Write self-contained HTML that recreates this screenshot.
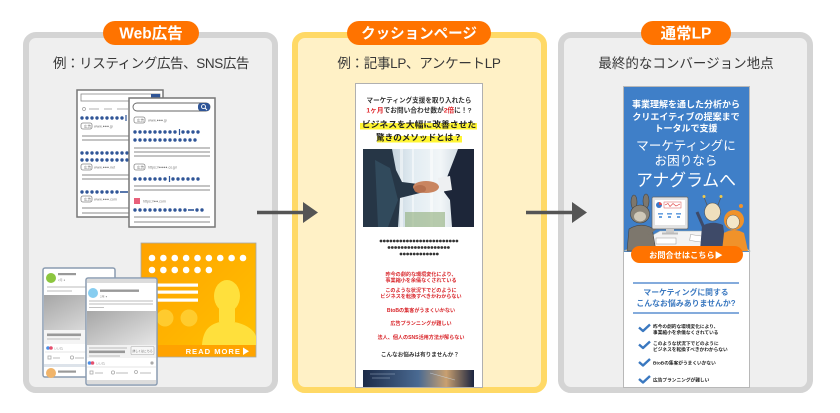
<!DOCTYPE html>
<html><head><meta charset="utf-8"><style>
html,body{margin:0;padding:0;background:#fff;}
svg{display:block;}
text{font-family:"Liberation Sans","Noto Sans CJK JP",sans-serif;}
</style></head><body>
<svg width="840" height="413" viewBox="0 0 840 413" xmlns="http://www.w3.org/2000/svg">
<defs>
<linearGradient id="bn" x1="0" y1="0" x2="1" y2="1"><stop offset="0" stop-color="#ffa200"/><stop offset="1" stop-color="#ffc200"/></linearGradient>
<linearGradient id="fbi" x1="0" y1="0" x2="1" y2="1"><stop offset="0" stop-color="#a6a6a6"/><stop offset="1" stop-color="#e6e6e6"/></linearGradient>
<linearGradient id="ph" x1="0" y1="0" x2="1" y2="0"><stop offset="0" stop-color="#9fb3c2"/><stop offset=".45" stop-color="#e2ecf2"/><stop offset=".7" stop-color="#f2f6f8"/><stop offset="1" stop-color="#b9c8d4"/></linearGradient>
<linearGradient id="ph2" x1="0" y1="0" x2="1" y2="0"><stop offset="0" stop-color="#1c2b48"/><stop offset=".5" stop-color="#4a6a92"/><stop offset=".75" stop-color="#c9a070"/><stop offset="1" stop-color="#1a2440"/></linearGradient>
</defs>

<!-- panels -->
<rect x="26" y="35" width="249" height="355" rx="10" fill="#efefef" stroke="#d4d4d4" stroke-width="6"/>
<rect x="295" y="35" width="249" height="355" rx="10" fill="#fff1c6" stroke="#ffd966" stroke-width="6"/>
<rect x="561" y="35" width="249" height="355" rx="10" fill="#efefef" stroke="#d4d4d4" stroke-width="6"/>

<!-- badges -->
<rect x="103" y="21" width="96" height="24" rx="12" fill="#ff7300"/>
<text x="151" y="38.5" font-size="15.5" font-weight="bold" fill="#fff" text-anchor="middle">Web広告</text>
<rect x="347" y="21" width="144" height="24" rx="12" fill="#ff7300"/>
<text x="419" y="38.5" font-size="14.5" font-weight="bold" fill="#fff" text-anchor="middle">クッションページ</text>
<rect x="641" y="21" width="90" height="24" rx="12" fill="#ff7300"/>
<text x="686" y="38.5" font-size="15.5" font-weight="bold" fill="#fff" text-anchor="middle">通常LP</text>

<!-- subtitles -->
<text x="151" y="68" font-size="13.5" fill="#383838" text-anchor="middle" letter-spacing="-0.4">例：リスティング広告、SNS広告</text>
<text x="419" y="68" font-size="13.5" fill="#383838" text-anchor="middle" letter-spacing="-0.3">例：記事LP、アンケートLP</text>
<text x="686" y="68" font-size="13.5" fill="#383838" text-anchor="middle">最終的なコンバージョン地点</text>

<!-- ===== Left panel: search windows ===== -->
<g>
<rect x="77" y="90" width="86" height="127" fill="#fff" stroke="#777" stroke-width="1.5"/>
<rect x="81" y="94" width="79" height="7" fill="#fff" stroke="#888" stroke-width="0.8"/>
<rect x="151" y="94" width="9" height="7" fill="#2f5597"/>
<circle cx="84" cy="109" r="1.5" fill="none" stroke="#999" stroke-width="0.7"/>
<g stroke="#aaa" stroke-width="0.9"><line x1="89" y1="109" x2="99" y2="109"/><line x1="104" y1="109" x2="112" y2="109"/><line x1="117" y1="109" x2="128" y2="109"/></g>
<g stroke="#2f5597" stroke-width="3.4" stroke-linecap="round" stroke-dasharray="0 5">
<line x1="82" y1="118" x2="123" y2="118"/>
<line x1="82" y1="153" x2="129" y2="153"/>
<line x1="82" y1="160" x2="129" y2="160"/>
<line x1="82" y1="192" x2="118" y2="192"/>
</g>
<line x1="126" y1="115" x2="126" y2="121" stroke="#2f5597" stroke-width="1.2"/>
<line x1="120" y1="192" x2="128" y2="192" stroke="#2f5597" stroke-width="1.6"/>
<g fill="#fff" stroke="#888" stroke-width="0.8">
<rect x="81" y="123" width="11" height="6" rx="2"/>
<rect x="81" y="164" width="11" height="6" rx="2"/>
<rect x="81" y="196" width="11" height="6" rx="2"/>
</g>
<g font-size="3.6" fill="#777">
<text x="84" y="127.5">広告</text><text x="84" y="168.5">広告</text><text x="84" y="200.5">広告</text>
<text x="94" y="127.5">www.●●●.jp</text><text x="94" y="168.5">www.●●●.net</text><text x="94" y="200.5">www.●●●.com</text>
</g>
<g stroke="#8a8a8a" stroke-width="1">
<line x1="82" y1="136" x2="129" y2="136"/><line x1="82" y1="140" x2="129" y2="140"/>
<line x1="82" y1="175" x2="129" y2="175"/><line x1="82" y1="179" x2="129" y2="179"/>
<line x1="82" y1="208" x2="129" y2="208"/><line x1="82" y1="213" x2="129" y2="213"/>
</g>

<rect x="129" y="98" width="86" height="129" fill="#fff" stroke="#777" stroke-width="1.5"/>
<rect x="133" y="103" width="77" height="8" rx="4" fill="#fff" stroke="#666" stroke-width="0.9"/>
<rect x="198" y="103" width="12" height="8" rx="3" fill="#2f5597"/>
<circle cx="203.5" cy="106.6" r="2" fill="none" stroke="#fff" stroke-width="0.9"/>
<line x1="205" y1="108" x2="207" y2="110" stroke="#fff" stroke-width="1"/>
<g fill="#fff" stroke="#888" stroke-width="0.8">
<rect x="134" y="117" width="11" height="6" rx="2"/>
<rect x="134" y="164" width="11" height="6" rx="2"/>
</g>
<rect x="134" y="198" width="6" height="6" fill="#e8607a"/>
<g font-size="3.6" fill="#777">
<text x="137" y="121.5">広告</text><text x="137" y="168.5">広告</text>
<text x="148" y="121.5">www.●●●.jp</text><text x="148" y="168.5">https://●●●●.co.jp/</text>
<text x="143" y="202.5">https://●●.com</text>
</g>
<g stroke="#2f5597" stroke-width="3.4" stroke-linecap="round" stroke-dasharray="0 5">
<line x1="135" y1="132" x2="176" y2="132"/>
<line x1="183" y1="132" x2="199" y2="132"/>
<line x1="135" y1="140" x2="196" y2="140"/>
<line x1="135" y1="179" x2="166" y2="179"/>
<line x1="173" y1="179" x2="199" y2="179"/>
<line x1="135" y1="210" x2="186" y2="210"/>
<line x1="197" y1="210" x2="203" y2="210"/>
</g>
<g stroke="#2f5597" stroke-width="1.2">
<line x1="179.5" y1="129" x2="179.5" y2="135"/><line x1="169.5" y1="176" x2="169.5" y2="182"/>
</g>
<line x1="188" y1="210" x2="194" y2="210" stroke="#2f5597" stroke-width="1.6"/>
<g stroke="#8a8a8a" stroke-width="1">
<line x1="134" y1="148" x2="210" y2="148"/><line x1="134" y1="152" x2="210" y2="152"/><line x1="134" y1="156" x2="210" y2="156"/>
<line x1="134" y1="186" x2="210" y2="186"/><line x1="134" y1="190" x2="210" y2="190"/>
<line x1="134" y1="217" x2="210" y2="217"/><line x1="134" y1="222" x2="210" y2="222"/>
</g>
</g>

<!-- orange banner -->
<g>
<rect x="141" y="243" width="115" height="114" fill="url(#bn)" stroke="#a8a8a8" stroke-width="0.8"/>
<g stroke="#fff" stroke-width="6.6" stroke-linecap="round" stroke-dasharray="0 11.375">
<line x1="152" y1="258" x2="244" y2="258"/>
<line x1="152" y1="270" x2="210" y2="270"/>
</g>
<g fill="#fff"><rect x="157" y="283.5" width="41" height="3.2"/><rect x="157" y="290.5" width="41" height="3.2"/><rect x="157" y="298.5" width="41" height="3.2"/></g>
<circle cx="165" cy="318" r="8.5" fill="#ffd23a" opacity="0.8"/>
<circle cx="189" cy="318" r="8.5" fill="#ffd23a" opacity="0.8"/>
<ellipse cx="227" cy="296" rx="13" ry="16" fill="#ffe03c"/>
<rect x="219" y="306" width="16" height="16" fill="#ffe03c"/>
<path d="M202 345 C203 330 210 324 220 322 L234 322 C246 324 254 330 256 336 L256 345 Z" fill="#ffe03c"/>
<rect x="141.5" y="345" width="114" height="11.6" fill="#ff9f00" opacity="0.85"/>
<text x="241" y="354.2" font-size="7.6" font-weight="bold" fill="#fff" text-anchor="end" letter-spacing="1">READ MORE</text>
<polygon points="243,347.5 249,351.3 243,355" fill="#fff"/>
</g>

<!-- FB back card -->
<g>
<rect x="43" y="268" width="72" height="109" rx="2" fill="#fff" stroke="#8a9bb0" stroke-width="1.5"/>
<circle cx="51" cy="278" r="5" fill="#8cc63f"/>
<rect x="58" y="273" width="18" height="2.2" fill="#999"/>
<text x="58" y="281" font-size="3" fill="#999">2月 ●</text>
<line x1="47" y1="287" x2="110" y2="287" stroke="#bbb" stroke-width="0.9"/>
<line x1="47" y1="291" x2="72" y2="291" stroke="#bbb" stroke-width="0.9"/>
<rect x="44" y="295" width="70" height="35" fill="url(#fbi)"/>
<rect x="44" y="330" width="70" height="14" fill="#f4f4f4"/>
<rect x="47" y="333.5" width="34" height="2.6" fill="#999"/>
<line x1="47" y1="339" x2="80" y2="339" stroke="#bbb" stroke-width="0.9"/>
<circle cx="48" cy="348" r="1.8" fill="#4a8ee6"/><circle cx="51" cy="348" r="1.8" fill="#e6506e"/>
<text x="54" y="349.5" font-size="3" fill="#999">いいね</text>
<line x1="45" y1="352" x2="113" y2="352" stroke="#ddd" stroke-width="0.7"/>
<g stroke="#aaa" stroke-width="0.8" fill="none"><rect x="48" y="356" width="3" height="3"/><line x1="53" y1="358" x2="60" y2="358"/><circle cx="72" cy="357.5" r="1.6"/><line x1="75" y1="358" x2="84" y2="358"/></g>
<rect x="44" y="364" width="70" height="3" fill="#dde3ea"/>
<circle cx="51" cy="373" r="5" fill="#f0b46a"/>
<rect x="58" y="370.5" width="18" height="2.2" fill="#999"/>
</g>

<!-- FB front card -->
<g>
<rect x="86" y="278" width="71" height="107" rx="2" fill="#fff" stroke="#8a9bb0" stroke-width="1.5"/>
<rect x="87" y="279" width="69" height="4" fill="#dcdcdc"/>
<circle cx="93" cy="293" r="5" fill="#87cdf0"/>
<rect x="100" y="289.5" width="39" height="2.4" fill="#999"/>
<text x="100" y="297.5" font-size="3" fill="#999">2月 ●</text>
<line x1="89" y1="301" x2="153" y2="301" stroke="#bbb" stroke-width="0.9"/>
<line x1="89" y1="304" x2="153" y2="304" stroke="#bbb" stroke-width="0.9"/>
<line x1="89" y1="307.5" x2="104" y2="307.5" stroke="#bbb" stroke-width="0.9"/>
<rect x="87" y="311" width="69" height="34" fill="url(#fbi)"/>
<rect x="87" y="345" width="69" height="13" fill="#f2f2f2"/>
<line x1="89" y1="348" x2="127" y2="348" stroke="#bbb" stroke-width="0.9"/>
<rect x="89" y="350.5" width="36" height="2.6" fill="#999"/>
<line x1="89" y1="356" x2="120" y2="356" stroke="#bbb" stroke-width="0.9"/>
<rect x="131" y="346.5" width="23" height="8" rx="1" fill="#f7f7f7" stroke="#aaa" stroke-width="0.6"/>
<text x="142.5" y="351.8" font-size="2.9" fill="#666" text-anchor="middle">詳しくはこちら</text>
<circle cx="89.5" cy="363" r="1.8" fill="#4a8ee6"/><circle cx="92.5" cy="363" r="1.8" fill="#e6506e"/>
<text x="96" y="364.5" font-size="3" fill="#999">いいね</text>
<circle cx="152" cy="363" r="1.6" fill="#aaa"/>
<line x1="87" y1="367" x2="156" y2="367" stroke="#ddd" stroke-width="0.7"/>
<g stroke="#aaa" stroke-width="0.8" fill="none"><rect x="90" y="371" width="3" height="3"/><line x1="95" y1="373" x2="103" y2="373"/><circle cx="113" cy="372.5" r="1.6"/><line x1="116" y1="373" x2="128" y2="373"/><circle cx="136" cy="372" r="1.5"/><line x1="140" y1="373" x2="151" y2="373"/></g>
<rect x="87" y="380" width="69" height="4" fill="#dcdcdc"/>
</g>

<!-- ===== Middle LP ===== -->
<g>
<rect x="355.5" y="83.5" width="127" height="304" fill="#fff" stroke="#b0b0b0" stroke-width="1"/>
<text x="419" y="102.3" font-size="6.6" fill="#333" text-anchor="middle" font-weight="bold">マーケティング支援を取り入れたら</text>
<text x="419" y="112.6" font-size="6.7" fill="#333" text-anchor="middle" font-weight="bold"><tspan fill="#e0262b">1ヶ月</tspan>でお問い合わせ数が<tspan fill="#e0262b">2倍</tspan>に！?</text>
<rect x="360" y="123" width="117" height="6.5" fill="#fff533"/>
<rect x="377" y="136" width="85" height="6.5" fill="#fff533"/>
<text x="419" y="127.5" font-size="8.8" fill="#222" text-anchor="middle" font-weight="bold">ビジネスを大幅に改善させた</text>
<text x="419" y="140.5" font-size="8.6" fill="#222" text-anchor="middle" font-weight="bold">驚きのメソッドとは？</text>
<!-- photo -->
<rect x="363" y="149" width="111" height="78" fill="url(#ph)"/>
<g fill="#fff" opacity="0.5"><rect x="400" y="149" width="3" height="78"/><rect x="412" y="149" width="2" height="78"/><rect x="430" y="149" width="3" height="78"/></g>
<rect x="405" y="212" width="40" height="15" fill="#8fae7a" opacity="0.6"/>
<polygon points="363,149 392,149 396,170 402,182 418,184 420,193 400,198 398,227 363,227" fill="#263646"/>
<polygon points="375,160 390,168 398,200 388,227 378,227" fill="#314a5c"/>
<polygon points="458,149 474,149 474,227 452,227 450,200 444,192 446,180" fill="#1d2639"/>
<polygon points="438,178 450,176 452,190 440,192" fill="#eef0f2"/>
<ellipse cx="426" cy="187" rx="13" ry="6" fill="#c98560"/>
<ellipse cx="420" cy="189" rx="6" ry="4" fill="#b5704e"/>
<!-- dots -->
<g stroke="#333" stroke-width="2.8" stroke-linecap="round" stroke-dasharray="0 3.3">
<line x1="381" y1="241" x2="459" y2="241"/>
<line x1="389" y1="247.5" x2="451" y2="247.5"/>
<line x1="401" y1="254" x2="439" y2="254"/>
</g>
<g font-size="5.1" fill="#d9262b" text-anchor="middle" font-weight="bold">
<text x="421" y="276">昨今の劇的な環境変化により、</text>
<text x="421" y="282">事業縮小を余儀なくされている</text>
<text x="421" y="292">このような状況下でどのように</text>
<text x="421" y="298">ビジネスを転換すべきかわからない</text>
<text x="421" y="312">BtoBの集客がうまくいかない</text>
<text x="421" y="325">広告プランニングが難しい</text>
<text x="421" y="339">法人、個人のSNS活用方法が解らない</text>
</g>
<text x="420" y="356.3" font-size="5.6" fill="#333" text-anchor="middle" font-weight="bold">こんなお悩みは有りませんか？</text>
<rect x="363" y="370" width="111" height="17" fill="url(#ph2)"/>
<g stroke="#cfe0f0" stroke-width="0.6" opacity="0.7"><line x1="370" y1="374" x2="395" y2="374"/><line x1="372" y1="378" x2="390" y2="378"/><line x1="430" y1="373" x2="455" y2="380"/></g>
</g>

<!-- ===== Right LP ===== -->
<g>
<rect x="623.5" y="86.5" width="126" height="301" fill="#fff" stroke="#b8b8b8" stroke-width="1"/>
<rect x="624" y="87" width="125" height="165" fill="#3f7fc8"/>
<g fill="#fff" text-anchor="middle" font-weight="bold">
<text x="686" y="107.3" font-size="9">事業理解を通した分析から</text>
<text x="686" y="120" font-size="9">クリエイティブの提案まで</text>
<text x="686" y="131.5" font-size="9">トータルで支援</text>
<text x="686" y="149.8" font-size="12.6" font-weight="normal">マーケティングに</text>
<text x="686" y="164.8" font-size="12.6" font-weight="normal">お困りなら</text>
<text x="686" y="186" font-size="16.8" font-weight="normal">アナグラムへ</text>
</g>
<!-- illustration -->
<polygon points="660,231 722,231 750,251 624,251" fill="#f3f3f3" stroke="#9aa" stroke-width="0.6"/>
<rect x="690" y="236" width="22" height="6" fill="#fff" stroke="#999" stroke-width="0.5" transform="rotate(8 701 239)"/>
<rect x="656" y="238" width="20" height="6" fill="#fff" stroke="#999" stroke-width="0.5"/>
<!-- left char -->
<ellipse cx="634" cy="202" rx="3" ry="7" fill="#7d776d" stroke="#444" stroke-width="0.6"/>
<ellipse cx="646" cy="201" rx="3" ry="7" fill="#7d776d" stroke="#444" stroke-width="0.6"/>
<path d="M627 251 L629 229 Q640 222 652 228 L656 251 Z" fill="#7d776d" stroke="#444" stroke-width="0.6"/>
<ellipse cx="640" cy="214" rx="9.5" ry="9" fill="#8a8478" stroke="#444" stroke-width="0.6"/>
<ellipse cx="640" cy="216.5" rx="6" ry="5" fill="#cfc8b8"/>
<line x1="648" y1="234" x2="658" y2="226" stroke="#7d776d" stroke-width="3"/>
<!-- monitor -->
<rect x="652" y="197" width="36" height="32" rx="1.5" fill="#e2e2e2" stroke="#666" stroke-width="0.7"/>
<rect x="655" y="200" width="30" height="25" fill="#fff"/>
<circle cx="659" cy="205" r="3" fill="#3b78c8"/>
<path d="M659 205 L659 202 A3 3 0 0 1 662 205 Z" fill="#e94c4c"/>
<rect x="664" y="202" width="17" height="6" fill="#fff" stroke="#d55" stroke-width="0.5"/>
<polyline points="665,205 668,203.5 670,206.5 673,203.5 676,206 680,204" fill="none" stroke="#d33" stroke-width="0.6"/>
<g fill="#6aa2e0"><rect x="658" y="213" width="5" height="1.6"/><rect x="667" y="213" width="5" height="1.6"/><rect x="676" y="213" width="5" height="1.6"/><rect x="659" y="216" width="3" height="2"/><rect x="668" y="216" width="3" height="2"/><rect x="677" y="216" width="3" height="2"/></g>
<rect x="666" y="229" width="8" height="4" fill="#ccc"/>
<rect x="662" y="232.5" width="16" height="2" fill="#bbb"/>
<!-- middle char -->
<line x1="707" y1="205" x2="704" y2="197" stroke="#555" stroke-width="0.7"/>
<line x1="718" y1="205" x2="721" y2="197" stroke="#555" stroke-width="0.7"/>
<circle cx="704" cy="196.5" r="1.5" fill="#f1c94a"/><circle cx="721" cy="196.5" r="1.5" fill="#f1c94a"/>
<path d="M700 251 L702 226 Q712 220 723 225 L727 251 Z" fill="#3e4a68"/>
<line x1="704" y1="228" x2="697" y2="212" stroke="#3e4a68" stroke-width="3"/>
<ellipse cx="712.5" cy="212" rx="8" ry="9" fill="#efe0bd" stroke="#555" stroke-width="0.6"/>
<!-- right char -->
<circle cx="741" cy="206" r="2" fill="#f0922a"/>
<path d="M722 251 L724 233 Q734 227 744 233 L748 251 Z" fill="#f0922a"/>
<ellipse cx="734" cy="220" rx="10" ry="10" fill="#f0922a"/>
<ellipse cx="733" cy="222" rx="6.5" ry="7" fill="#f3e6c8" stroke="#555" stroke-width="0.5"/>
<!-- button -->
<rect x="631" y="246" width="112" height="17" rx="8.5" fill="#ff7300"/>
<text x="686" y="257.8" font-size="8.2" font-weight="bold" fill="#fff" text-anchor="middle">お問合せはこちら▶</text>
<!-- worries -->
<line x1="633" y1="283" x2="739" y2="283" stroke="#5b8fd0" stroke-width="1.4"/>
<line x1="633" y1="313" x2="739" y2="313" stroke="#5b8fd0" stroke-width="1.4"/>
<text x="686" y="295" font-size="7.8" fill="#3a78c0" text-anchor="middle" font-weight="bold">マーケティングに関する</text>
<text x="686" y="306" font-size="7.9" fill="#3a78c0" text-anchor="middle" font-weight="bold">こんなお悩みありませんか?</text>
<g fill="none" stroke="#3a78c0" stroke-width="2.4" stroke-linejoin="round">
<polyline points="639,327.5 643,331 650,324.5"/>
<polyline points="639,344.5 643,348 650,341.5"/>
<polyline points="639,362 643,365.5 650,359"/>
<polyline points="639,379 643,382.5 650,376"/>
</g>
<g font-size="4.7" fill="#222" font-weight="bold">
<text x="653" y="328">昨今の劇的な環境変化により、</text>
<text x="653" y="334">事業縮小を余儀なくされている</text>
<text x="653" y="345">このような状況下でどのように</text>
<text x="653" y="351">ビジネスを転換すべきかわからない</text>
<text x="653" y="364.5">BtoBの集客がうまくいかない</text>
<text x="653" y="381.5">広告プランニングが難しい</text>
</g>
</g>

<!-- arrows -->
<line x1="257" y1="212.5" x2="305" y2="212.5" stroke="#555" stroke-width="3.5"/>
<polygon points="303,202 318,212.5 303,223" fill="#555"/>
<line x1="526" y1="212.5" x2="574" y2="212.5" stroke="#555" stroke-width="3.5"/>
<polygon points="572,202 587,212.5 572,223" fill="#555"/>
</svg>
</body></html>
